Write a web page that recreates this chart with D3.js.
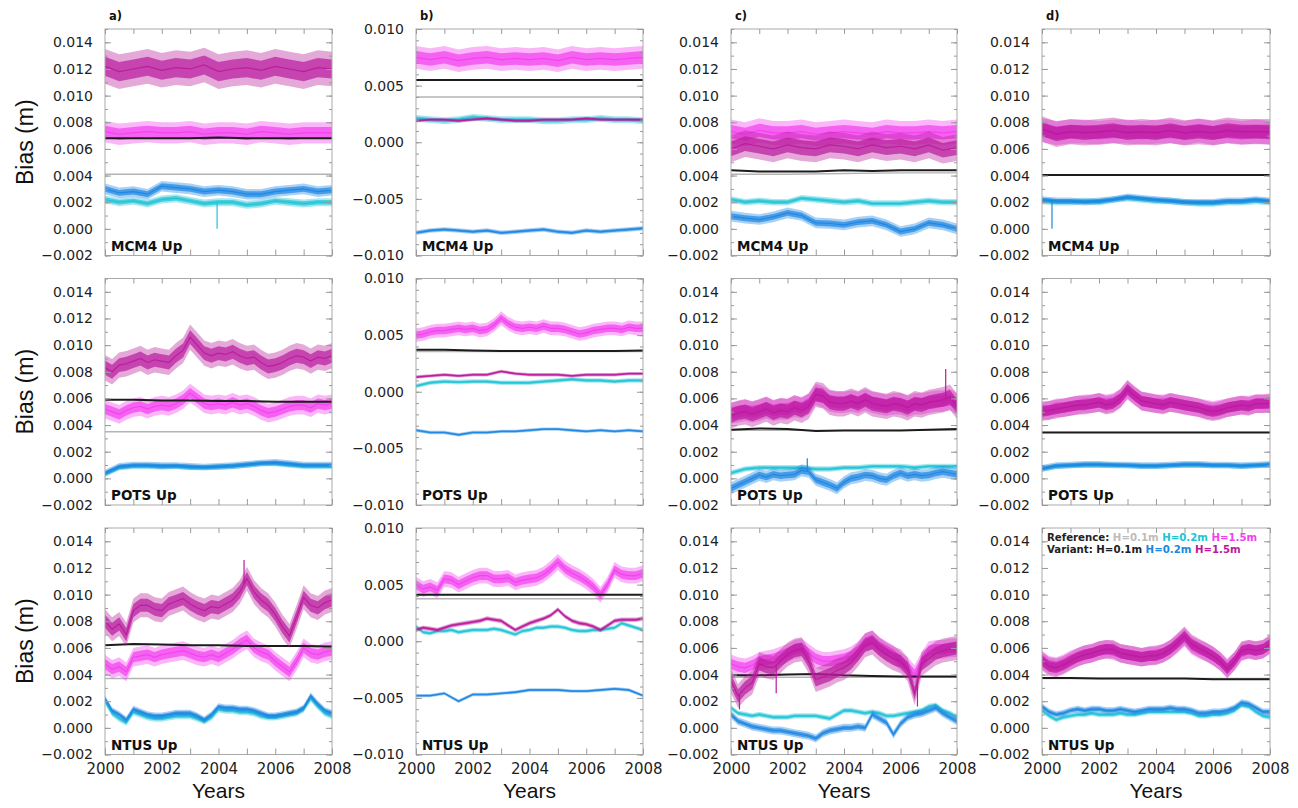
<!DOCTYPE html>
<html>
<head>
<meta charset="utf-8">
<script src="https://cdn.jsdelivr.net/npm/d3@7"></script>
<style>
  body { margin: 0; background: #fff; }
  svg { display: block; }
</style>
</head>
<body>
<svg id="fig" width="1298" height="808"></svg>
<script>
// All bias values below are in millimetres; each array is spread evenly over 2000.0–2008.0.
const MM = 0.001;

const stations = ["MCM4 Up", "POTS Up", "NTUS Up"];
const panelLetters = ["a)", "b)", "c)", "d)"];
const yTicksWide = [-0.002, 0, 0.002, 0.004, 0.006, 0.008, 0.010, 0.012, 0.014];
const yTicksWideMinor = d3.range(-0.002, 0.0151, 0.001);
const yTicksNarrow = [-0.010, -0.005, 0, 0.005, 0.010];
const yTicksNarrowMinor = d3.range(-0.010, 0.0101, 0.001);
const xTickLabels = [2000, 2002, 2004, 2006, 2008];
const xTicksAll = [2000, 2001, 2002, 2003, 2004, 2005, 2006, 2007, 2008];
const legendRows = [
  ["Reference:", "H=0.1m", "H=0.2m", "H=1.5m"],
  ["Variant:", "H=0.1m", "H=0.2m", "H=1.5m"]
];

// ---------- MCM4 ----------
const mcm4_a_ref01 = [4.1, 4.1, 4.1, 4.1, 4.1];
const mcm4_a_ref02 = [2.2, 2.0, 2.1, 1.9, 2.2, 2.3, 2.1, 1.9, 2.0, 2.0, 1.8, 1.9, 2.1, 2.0, 1.9, 2.0, 2.0];
const mcm4_a_ref15 = [7.3, 7.1, 7.2, 7.3, 7.2, 7.2, 7.3, 7.1, 7.2, 7.2, 7.1, 7.3, 7.2, 7.1, 7.2, 7.2, 7.2];
const mcm4_a_var01 = [6.8, 6.8, 6.8, 6.8, 6.85, 6.8, 6.8, 6.8, 6.8];
const mcm4_a_var02 = [3.0, 2.7, 2.8, 2.6, 3.2, 3.1, 3.0, 2.8, 2.9, 2.8, 2.6, 2.6, 2.8, 2.9, 3.0, 2.8, 2.9];
const mcm4_a_var15 = [12.2, 11.8, 12.0, 12.2, 11.9, 12.1, 12.0, 12.3, 11.8, 12.0, 12.1, 11.9, 12.2, 12.0, 11.8, 12.1, 12.0];
const mcm4_a_spread = [0, 0.3, 0.8, 0, 0.4, 1.3];
// single-day outliers: [series index, year, value]
const mcm4_a_outliers = [[1, 2003.95, 0.0]];

const mcm4_b_ref01 = [4.0, 4.0, 4.0, 4.0, 4.0];
const mcm4_b_ref02 = [2.1, 2.0, 1.9, 2.0, 2.2, 2.1, 2.0, 2.0, 2.0, 1.9, 1.9, 2.0, 2.0, 2.1, 2.0, 2.0, 1.9];
const mcm4_b_ref15 = [7.5, 7.3, 7.5, 7.2, 7.4, 7.5, 7.3, 7.4, 7.3, 7.4, 7.2, 7.5, 7.3, 7.4, 7.3, 7.4, 7.5];
const mcm4_b_var01 = [5.5, 5.5, 5.5, 5.5, 5.5];
const mcm4_b_var02 = [-8.0, -7.8, -7.7, -7.8, -7.9, -7.8, -8.0, -7.9, -7.8, -7.7, -7.9, -8.0, -7.8, -7.9, -7.8, -7.7, -7.6];
const mcm4_b_var15 = [1.9, 2.0, 2.0, 1.9, 2.0, 2.1, 2.0, 1.9, 1.9, 2.0, 2.0, 2.0, 2.1, 2.0, 2.0, 2.0, 2.0];
const mcm4_b_spread = [0, 0.3, 1.0, 0, 0.2, 0.15];
const mcm4_b_outliers = [];

const mcm4_c_ref01 = [4.1, 4.1, 4.15, 4.2, 4.2];
const mcm4_c_ref02 = [2.2, 2.0, 2.1, 2.0, 2.0, 2.3, 2.2, 2.1, 2.0, 2.1, 1.9, 1.9, 1.9, 2.0, 2.1, 2.0, 2.0];
const mcm4_c_ref15 = [7.3, 7.1, 7.4, 7.2, 7.2, 7.3, 7.1, 7.2, 7.3, 7.2, 7.1, 7.3, 7.2, 7.2, 7.3, 7.2, 7.3];
const mcm4_c_var01 = [4.4, 4.3, 4.3, 4.3, 4.4, 4.35, 4.4, 4.4, 4.4];
const mcm4_c_var02 = [0.95, 0.8, 0.7, 0.9, 1.2, 1.0, 0.45, 0.4, 0.3, 0.5, 0.6, 0.3, -0.2, 0.0, 0.45, 0.3, 0.0];
const mcm4_c_var15 = [6.0, 6.4, 6.2, 6.0, 6.3, 6.1, 6.0, 6.3, 6.2, 6.0, 6.3, 6.1, 6.2, 6.0, 6.3, 5.9, 6.1];
const mcm4_c_spread = [0, 0.25, 0.9, 0, 0.4, 1.0];
const mcm4_c_outliers = [];

const mcm4_d_ref01 = [4.05, 4.05, 4.05, 4.05, 4.05];
const mcm4_d_ref02 = [2.1, 2.0, 2.0, 2.1, 2.0, 2.2, 2.3, 2.2, 2.1, 2.1, 2.0, 1.9, 1.9, 2.0, 2.0, 2.1, 2.0];
const mcm4_d_ref15 = [7.4, 7.2, 7.3, 7.3, 7.2, 7.3, 7.3, 7.2, 7.3, 7.3, 7.2, 7.4, 7.2, 7.3, 7.2, 7.3, 7.2];
const mcm4_d_var01 = [4.05, 4.05, 4.05, 4.05, 4.05];
const mcm4_d_var02 = [2.2, 2.1, 2.1, 2.0, 2.1, 2.2, 2.4, 2.3, 2.2, 2.1, 2.0, 2.0, 2.0, 2.1, 2.1, 2.2, 2.1];
const mcm4_d_var15 = [7.5, 7.1, 7.3, 7.2, 7.3, 7.4, 7.2, 7.3, 7.2, 7.4, 7.2, 7.3, 7.2, 7.4, 7.3, 7.3, 7.3];
const mcm4_d_spread = [0, 0.25, 0.9, 0, 0.25, 0.95];
const mcm4_d_outliers = [[4, 2000.35, 0.0]];

// ---------- POTS ----------
const pots_a_ref01 = [3.5, 3.5, 3.5, 3.5, 3.5];
const pots_a_ref02 = [0.3, 0.8, 0.9, 0.9, 0.85, 0.9, 0.8, 0.8, 0.85, 0.9, 1.0, 1.1, 1.1, 1.0, 0.9, 0.9, 0.9];
const pots_a_ref15 = [5.2, 5.0, 4.8, 5.1, 5.3, 5.4, 5.2, 5.4, 5.5, 5.4, 5.6, 5.9, 6.4, 6.0, 5.6, 5.5, 5.6,
                      5.5, 5.7, 5.5, 5.6, 5.4, 5.1, 4.9, 5.0, 5.2, 5.4, 5.5, 5.5, 5.3, 5.6, 5.5, 5.6];
const pots_a_var01 = [5.9, 5.9, 5.85, 5.85, 5.8, 5.8, 5.75, 5.75, 5.75];
const pots_a_var02 = [0.4, 0.9, 1.0, 1.0, 0.95, 0.95, 0.9, 0.85, 0.9, 0.95, 1.05, 1.15, 1.2, 1.1, 1.0, 1.0, 1.0];
const pots_a_var15 = [8.3, 8.0, 8.5, 8.6, 8.8, 9.0, 8.7, 8.9, 8.8, 8.7, 9.2, 9.6, 10.6, 10.0, 9.4, 9.2, 9.4,
                      9.3, 9.5, 9.2, 9.0, 9.1, 8.7, 8.4, 8.5, 8.7, 9.0, 9.2, 9.1, 8.8, 9.1, 9.0, 9.2];
const pots_a_spread = [0, 0.2, 0.7, 0, 0.25, 0.95];
const pots_a_outliers = [];

const pots_b_ref01 = [3.55, 3.55, 3.55, 3.55, 3.55];
const pots_b_ref02 = [0.5, 0.8, 0.9, 0.85, 0.9, 0.9, 0.8, 0.8, 0.8, 0.9, 1.0, 1.1, 1.0, 1.0, 0.9, 1.0, 1.0];
const pots_b_ref15 = [5.0, 5.1, 5.3, 5.4, 5.4, 5.5, 5.6, 5.5, 5.6, 5.4, 5.5, 5.9, 6.5, 6.0, 5.7, 5.6, 5.7,
                      5.6, 5.8, 5.6, 5.6, 5.5, 5.3, 5.1, 5.2, 5.4, 5.5, 5.6, 5.6, 5.5, 5.7, 5.6, 5.6];
const pots_b_var01 = [3.7, 3.7, 3.65, 3.6, 3.6, 3.6, 3.6, 3.6, 3.65];
const pots_b_var02 = [-3.4, -3.6, -3.6, -3.8, -3.6, -3.6, -3.5, -3.5, -3.4, -3.3, -3.3, -3.4, -3.5, -3.4, -3.5, -3.4, -3.5];
const pots_b_var15 = [1.3, 1.4, 1.5, 1.4, 1.5, 1.5, 1.8, 1.6, 1.5, 1.5, 1.5, 1.4, 1.5, 1.5, 1.5, 1.6, 1.6];
const pots_b_spread = [0, 0.2, 0.6, 0, 0.15, 0.15];
const pots_b_outliers = [];

const pots_c_ref01 = [3.6, 3.6, 3.6, 3.6, 3.6];
const pots_c_ref02 = [0.4, 0.7, 0.8, 0.8, 0.8, 0.8, 0.7, 0.7, 0.8, 0.8, 0.9, 0.9, 0.9, 0.8, 0.9, 0.9, 0.9];
const pots_c_ref15 = [4.9, 5.0, 5.1, 5.0, 5.1, 5.3, 5.1, 5.2, 5.2, 5.4, 5.3, 5.6, 6.3, 6.1, 5.8, 5.7, 5.7,
                      5.8, 5.7, 5.9, 5.7, 5.6, 5.5, 5.6, 5.6, 5.4, 5.6, 5.6, 5.7, 5.8, 5.8, 5.9, 5.6];
const pots_c_var01 = [3.65, 3.75, 3.7, 3.55, 3.6, 3.6, 3.6, 3.65, 3.7];
const pots_c_var02 = [-0.75, -0.5, -0.25, 0.0, 0.25, 0.1, 0.3, 0.2, 0.25, 0.3, 0.6, 0.5, -0.1, -0.3, -0.5, -0.75, -0.3,
                      0.0, 0.1, 0.25, 0.2, 0.0, -0.1, 0.2, 0.4, 0.2, 0.3, 0.2, 0.25, 0.4, 0.5, 0.4, 0.3];
const pots_c_var15 = [4.7, 4.9, 5.0, 4.8, 5.0, 5.2, 4.9, 5.1, 5.0, 5.3, 5.1, 5.4, 6.3, 6.2, 5.7, 5.6, 5.6,
                      5.8, 5.6, 5.9, 5.6, 5.5, 5.4, 5.6, 5.5, 5.3, 5.6, 5.5, 5.7, 5.8, 5.9, 6.1, 5.4];
const pots_c_spread = [0, 0.2, 0.8, 0, 0.45, 0.95];
const pots_c_outliers = [[5, 2007.6, 8.2], [4, 2002.7, 1.5]];

const pots_d_ref01 = [3.45, 3.45, 3.45, 3.45, 3.45];
const pots_d_ref02 = [0.7, 0.9, 0.95, 1.0, 1.0, 1.0, 0.95, 0.9, 0.9, 0.95, 1.0, 1.0, 0.95, 0.95, 0.9, 0.95, 1.0];
const pots_d_ref15 = [5.1, 5.1, 5.3, 5.3, 5.4, 5.5, 5.6, 5.6, 5.7, 5.6, 5.7, 6.0, 6.6, 6.2, 5.8, 5.7, 5.6,
                      5.6, 5.7, 5.6, 5.5, 5.4, 5.3, 5.2, 5.1, 5.2, 5.3, 5.4, 5.5, 5.5, 5.6, 5.6, 5.7];
const pots_d_var01 = [3.45, 3.45, 3.45, 3.45, 3.45];
const pots_d_var02 = [0.75, 0.95, 1.0, 1.05, 1.05, 1.0, 1.0, 0.95, 0.95, 1.0, 1.05, 1.05, 1.0, 1.0, 0.95, 1.0, 1.05];
const pots_d_var15 = [5.0, 5.1, 5.2, 5.3, 5.4, 5.5, 5.5, 5.6, 5.7, 5.5, 5.6, 6.0, 6.7, 6.2, 5.8, 5.7, 5.6,
                      5.5, 5.7, 5.6, 5.5, 5.4, 5.3, 5.1, 5.0, 5.1, 5.3, 5.4, 5.5, 5.4, 5.6, 5.6, 5.6];
const pots_d_spread = [0, 0.2, 0.7, 0, 0.25, 0.7];
const pots_d_outliers = [];

// ---------- NTUS ----------
const ntus_a_ref01 = [3.7, 3.7, 3.7, 3.7, 3.7];
const ntus_a_ref02 = [2.0, 1.1, 0.7, 0.4, 1.2, 1.0, 0.8, 0.7, 0.7, 0.8, 0.9, 0.9, 0.9, 0.7, 0.5, 0.8, 1.4,
                      1.3, 1.3, 1.2, 1.2, 1.1, 0.9, 0.8, 0.8, 0.9, 1.0, 1.1, 1.4, 2.2, 1.6, 1.1, 0.9];
const ntus_a_ref15 = [4.8, 4.4, 4.6, 4.2, 5.3, 5.4, 5.5, 5.3, 5.5, 5.6, 5.7, 5.8, 5.6, 5.4, 5.3, 5.5, 5.3,
                      5.6, 5.9, 6.3, 6.6, 6.0, 5.7, 5.5, 5.0, 4.6, 4.2, 5.0, 6.0, 5.6, 5.5, 5.7, 5.8];
const ntus_a_var01 = [6.2, 6.3, 6.25, 6.2, 6.2, 6.15, 6.15, 6.15, 6.1];
const ntus_a_var02 = [2.2, 1.3, 1.0, 0.6, 1.4, 1.2, 1.0, 0.9, 0.9, 1.0, 1.1, 1.1, 1.1, 0.9, 0.6, 1.0, 1.6,
                      1.5, 1.5, 1.4, 1.4, 1.3, 1.1, 0.9, 0.9, 1.0, 1.1, 1.2, 1.5, 2.4, 1.8, 1.3, 1.1];
const ntus_a_var15 = [8.0, 7.4, 7.8, 7.0, 8.8, 9.2, 9.2, 8.9, 8.8, 9.3, 9.5, 9.7, 9.3, 9.0, 8.8, 9.1, 9.0,
                      9.3, 9.6, 10.2, 11.2, 10.2, 9.6, 9.2, 8.5, 7.6, 6.9, 8.3, 9.8, 9.2, 9.0, 9.4, 9.6];
const ntus_a_spread = [0, 0.25, 0.7, 0, 0.25, 0.9];
const ntus_a_outliers = [[5, 2004.9, 12.6]];

const ntus_b_ref01 = [3.75, 3.75, 3.75, 3.75, 3.75];
const ntus_b_ref02 = [1.3, 0.8, 0.7, 0.9, 0.9, 1.0, 0.8, 0.9, 1.0, 1.0, 1.0, 1.1, 1.0, 0.8, 0.6, 0.9, 1.0,
                      1.2, 1.2, 1.3, 1.3, 1.2, 1.0, 0.9, 0.9, 1.0, 1.0, 1.1, 1.2, 1.6, 1.4, 1.2, 1.0];
const ntus_b_ref15 = [5.0, 4.6, 4.8, 4.5, 5.5, 5.4, 5.0, 5.3, 5.6, 5.8, 5.8, 5.5, 5.5, 5.6, 5.2, 5.4, 5.5,
                      5.6, 5.9, 6.4, 7.0, 6.4, 6.0, 5.7, 5.3, 4.8, 4.1, 5.0, 6.3, 5.9, 5.8, 5.8, 6.0];
const ntus_b_var01 = [4.1, 4.1, 4.1, 4.1, 4.1];
const ntus_b_var02 = [-4.8, -4.8, -4.6, -5.3, -4.7, -4.7, -4.6, -4.5, -4.3, -4.3, -4.3, -4.4, -4.4, -4.3, -4.2, -4.3, -4.8];
const ntus_b_var15 = [1.0, 1.2, 1.1, 1.0, 1.2, 1.4, 1.5, 1.6, 1.7, 1.8, 2.0, 1.9, 1.8, 1.4, 1.0, 1.3, 1.6,
                      1.8, 2.0, 2.3, 2.8, 2.2, 1.8, 1.6, 1.5, 1.3, 1.0, 1.4, 1.8, 1.9, 1.9, 1.9, 2.0];
const ntus_b_spread = [0, 0.2, 0.7, 0, 0.15, 0.2];
const ntus_b_outliers = [];

const ntus_c_ref01 = [3.8, 3.8, 3.8, 3.8, 3.8];
const ntus_c_ref02 = [1.5, 1.1, 1.0, 0.9, 1.0, 0.9, 0.8, 0.8, 0.8, 0.9, 0.9, 0.9, 0.9, 0.8, 0.7, 1.0, 1.3,
                      1.3, 1.2, 1.1, 1.2, 1.1, 0.9, 0.9, 1.0, 1.1, 1.2, 1.3, 1.6, 1.7, 1.3, 1.1, 0.8];
const ntus_c_ref15 = [4.8, 4.6, 4.5, 4.7, 5.0, 5.1, 5.2, 5.4, 5.6, 5.9, 6.0, 5.6, 5.2, 5.0, 5.0, 5.1, 5.2,
                      5.4, 5.8, 6.4, 6.6, 6.1, 5.8, 5.5, 5.0, 4.6, 4.0, 5.0, 5.8, 5.9, 5.9, 6.0, 6.0];
const ntus_c_var01 = [3.95, 3.95, 4.0, 4.05, 3.95, 3.9, 3.85, 3.85, 3.85];
const ntus_c_var02 = [1.0, 0.5, 0.3, 0.1, 0.0, -0.1, -0.2, -0.2, -0.3, -0.4, -0.5, -0.6, -0.8, -0.4, -0.2, -0.1, 0.0,
                      0.0, 0.1, 0.0, 1.0, 0.7, 0.4, -0.5, 0.3, 0.8, 1.0, 1.1, 1.3, 1.5, 1.1, 0.8, 0.5];
const ntus_c_var15 = [3.5, 2.4, 3.0, 3.4, 4.8, 4.6, 4.5, 5.0, 5.5, 5.8, 5.9, 5.0, 3.6, 3.8, 4.0, 4.3, 4.5,
                      4.9, 5.5, 6.2, 6.4, 5.9, 5.5, 5.2, 5.0, 4.4, 2.6, 4.8, 5.2, 5.6, 5.8, 5.9, 6.0];
const ntus_c_spread = [0, 0.2, 0.7, 0, 0.3, 0.9];
const ntus_c_outliers = [[5, 2000.3, 1.4], [5, 2006.6, 1.6], [5, 2001.6, 2.6]];

const ntus_d_ref01 = [3.7, 3.7, 3.7, 3.7, 3.7];
const ntus_d_ref02 = [1.3, 0.9, 0.6, 0.8, 0.9, 1.0, 1.0, 1.1, 1.0, 1.0, 1.0, 1.1, 1.0, 1.0, 1.1, 1.2, 1.2,
                      1.2, 1.2, 1.2, 1.2, 1.1, 0.9, 0.9, 1.0, 1.0, 1.1, 1.3, 1.7, 1.6, 1.2, 0.9, 0.8];
const ntus_d_ref15 = [5.1, 4.7, 4.6, 4.8, 5.1, 5.3, 5.5, 5.6, 5.8, 5.9, 5.8, 5.6, 5.5, 5.4, 5.3, 5.4, 5.5,
                      5.6, 5.9, 6.3, 6.8, 6.2, 5.9, 5.7, 5.4, 5.0, 4.5, 5.0, 5.7, 5.9, 5.8, 5.9, 6.2];
const ntus_d_var01 = [3.75, 3.75, 3.7, 3.7, 3.7, 3.7, 3.65, 3.65, 3.65];
const ntus_d_var02 = [1.6, 1.2, 1.0, 1.1, 1.3, 1.4, 1.3, 1.4, 1.4, 1.3, 1.3, 1.4, 1.3, 1.2, 1.3, 1.4, 1.4,
                      1.4, 1.5, 1.4, 1.4, 1.3, 1.1, 1.1, 1.2, 1.2, 1.3, 1.5, 1.9, 1.8, 1.5, 1.2, 1.2];
const ntus_d_var15 = [5.0, 4.6, 4.5, 4.7, 5.0, 5.3, 5.5, 5.6, 5.8, 5.9, 5.9, 5.6, 5.5, 5.4, 5.3, 5.4, 5.4,
                      5.6, 5.9, 6.4, 6.9, 6.3, 6.0, 5.7, 5.4, 5.0, 4.4, 5.0, 5.8, 5.9, 5.8, 5.9, 6.3];
const ntus_d_spread = [0, 0.2, 0.7, 0, 0.25, 0.7];
const ntus_d_outliers = [];

// ---------- styling ----------
// draw order: reference curves first, variant curves on top
const seriesColors = ["#b4b4b4", "#20c3d6", "#f23ff0", "#1c1c1c", "#1c86e2", "#b91a9c"];
const legendColors = [
  ["#222", "#bdbdbd", "#20c3d6", "#f23ff0"],
  ["#222", "#1c1c1c", "#1c86e2", "#b91a9c"]
];

const colX = [[105, 332], [416, 643], [731, 957], [1042, 1270]];
const rowY = [[29, 255.5], [278.5, 505], [528, 754.5]];

const panelTable = [
  [mcm4_a_ref01, mcm4_a_ref02, mcm4_a_ref15, mcm4_a_var01, mcm4_a_var02, mcm4_a_var15, mcm4_a_spread, mcm4_a_outliers],
  [mcm4_b_ref01, mcm4_b_ref02, mcm4_b_ref15, mcm4_b_var01, mcm4_b_var02, mcm4_b_var15, mcm4_b_spread, mcm4_b_outliers],
  [mcm4_c_ref01, mcm4_c_ref02, mcm4_c_ref15, mcm4_c_var01, mcm4_c_var02, mcm4_c_var15, mcm4_c_spread, mcm4_c_outliers],
  [mcm4_d_ref01, mcm4_d_ref02, mcm4_d_ref15, mcm4_d_var01, mcm4_d_var02, mcm4_d_var15, mcm4_d_spread, mcm4_d_outliers],
  [pots_a_ref01, pots_a_ref02, pots_a_ref15, pots_a_var01, pots_a_var02, pots_a_var15, pots_a_spread, pots_a_outliers],
  [pots_b_ref01, pots_b_ref02, pots_b_ref15, pots_b_var01, pots_b_var02, pots_b_var15, pots_b_spread, pots_b_outliers],
  [pots_c_ref01, pots_c_ref02, pots_c_ref15, pots_c_var01, pots_c_var02, pots_c_var15, pots_c_spread, pots_c_outliers],
  [pots_d_ref01, pots_d_ref02, pots_d_ref15, pots_d_var01, pots_d_var02, pots_d_var15, pots_d_spread, pots_d_outliers],
  [ntus_a_ref01, ntus_a_ref02, ntus_a_ref15, ntus_a_var01, ntus_a_var02, ntus_a_var15, ntus_a_spread, ntus_a_outliers],
  [ntus_b_ref01, ntus_b_ref02, ntus_b_ref15, ntus_b_var01, ntus_b_var02, ntus_b_var15, ntus_b_spread, ntus_b_outliers],
  [ntus_c_ref01, ntus_c_ref02, ntus_c_ref15, ntus_c_var01, ntus_c_var02, ntus_c_var15, ntus_c_spread, ntus_c_outliers],
  [ntus_d_ref01, ntus_d_ref02, ntus_d_ref15, ntus_d_var01, ntus_d_var02, ntus_d_var15, ntus_d_spread, ntus_d_outliers]
].map((arr, i) => ({
  row: Math.floor(i / 4),
  col: i % 4,
  series: arr.slice(0, 6),
  spread: arr[6],
  outliers: arr[7]
}));

const svg = d3.select("#fig");
const tickFont = "DejaVu Sans, sans-serif";
const boldFont = "DejaVu Sans, sans-serif";
const labelFont = "Liberation Sans, Arial, sans-serif";
const fmt = d3.format(".3f");

function toPoints(values) {
  const n = values.length;
  return values.map((v, i) => ({ t: 2000 + 8 * i / (n - 1), v: v * MM }));
}

// level of a series at time t, read linearly between its stored points
function levelAt(values, t) {
  const n = values.length;
  const pos = (t - 2000) / 8 * (n - 1);
  const i = Math.max(0, Math.min(n - 2, Math.floor(pos)));
  const f = pos - i;
  return (values[i] * (1 - f) + values[i + 1] * f) * MM;
}

panelTable.forEach((p, idx) => {
  const [x0, x1] = colX[p.col];
  const [y0, y1] = rowY[p.row];
  const narrow = p.col === 1;
  const x = d3.scaleLinear().domain([2000, 2008]).range([x0, x1]);
  const y = d3.scaleLinear().domain(narrow ? [-0.010, 0.010] : [-0.002, 0.015]).range([y1, y0]);

  const g = svg.append("g");
  const clipId = "clip" + idx;
  g.append("clipPath").attr("id", clipId)
    .append("rect").attr("x", x0).attr("y", y0).attr("width", x1 - x0).attr("height", y1 - y0);

  const plot = g.append("g").attr("clip-path", `url(#${clipId})`);

  const line = d3.line().x(d => x(d.t)).y(d => y(d.v)).curve(d3.curveLinear);
  const band = f => d3.area().x(d => x(d.t))
    .y0(d => y(d.v - f)).y1(d => y(d.v + f)).curve(d3.curveLinear);

  p.series.forEach((vals, k) => {
    const pts = toPoints(vals);
    const w = p.spread[k] * MM;
    const color = seriesColors[k];
    if (w > 0) {
      // faint outer envelope of the daily scatter, denser core, then the running level
      plot.append("path").datum(pts).attr("d", band(w))
        .attr("fill", color).attr("fill-opacity", 0.38);
      plot.append("path").datum(pts).attr("d", band(w * 0.55))
        .attr("fill", color).attr("fill-opacity", 0.7);
      plot.append("path").datum(pts).attr("d", line)
        .attr("fill", "none").attr("stroke", color)
        .attr("stroke-width", 1.2).attr("stroke-opacity", 0.9);
    } else {
      plot.append("path").datum(pts).attr("d", line)
        .attr("fill", "none").attr("stroke", color)
        .attr("stroke-width", k === 3 ? 2 : 1.4);
    }
  });

  // isolated single-day excursions
  plot.selectAll("line.outlier")
    .data(p.outliers)
    .join("line")
    .attr("class", "outlier")
    .attr("x1", d => x(d[1])).attr("x2", d => x(d[1]))
    .attr("y1", d => y(levelAt(p.series[d[0]], d[1])))
    .attr("y2", d => y(d[2] * MM))
    .attr("stroke", d => seriesColors[d[0]])
    .attr("stroke-width", 1.2);

  // frame
  g.append("rect")
    .attr("x", x0).attr("y", y0).attr("width", x1 - x0).attr("height", y1 - y0)
    .attr("fill", "none").attr("stroke", "#a9a9a9").attr("stroke-width", 1);

  const major = narrow ? yTicksNarrow : yTicksWide;
  const minor = narrow ? yTicksNarrowMinor : yTicksWideMinor;

  // left axis with labels
  const left = g.append("g").attr("transform", `translate(${x0},0)`)
    .call(d3.axisLeft(y).tickValues(major).tickSize(-6).tickPadding(12).tickFormat(fmt));
  left.select(".domain").remove();
  left.selectAll("line").attr("stroke", "#9a9a9a");
  left.selectAll("text").attr("font-family", tickFont).attr("font-size", 14).attr("fill", "#1e1e1e");

  const leftMinor = g.append("g").attr("transform", `translate(${x0},0)`)
    .call(d3.axisLeft(y).tickValues(minor).tickSize(-3).tickFormat(""));
  leftMinor.select(".domain").remove();
  leftMinor.selectAll("line").attr("stroke", "#9a9a9a");

  const right = g.append("g").attr("transform", `translate(${x1},0)`)
    .call(d3.axisRight(y).tickValues(major).tickSize(-6).tickFormat(""));
  right.select(".domain").remove();
  right.selectAll("line").attr("stroke", "#9a9a9a");
  const rightMinor = g.append("g").attr("transform", `translate(${x1},0)`)
    .call(d3.axisRight(y).tickValues(minor).tickSize(-3).tickFormat(""));
  rightMinor.select(".domain").remove();
  rightMinor.selectAll("line").attr("stroke", "#9a9a9a");

  // top and bottom year ticks
  const top = g.append("g").attr("transform", `translate(0,${y0})`)
    .call(d3.axisTop(x).tickValues(xTicksAll).tickSize(-5).tickFormat(""));
  top.select(".domain").remove();
  top.selectAll("line").attr("stroke", "#9a9a9a");

  const bottom = g.append("g").attr("transform", `translate(0,${y1})`)
    .call(d3.axisBottom(x).tickValues(xTicksAll).tickSize(-6).tickFormat(""));
  bottom.select(".domain").remove();
  bottom.selectAll("line").attr("stroke", "#9a9a9a");

  if (p.row === 2) {
    const xl = g.append("g").attr("transform", `translate(0,${y1})`)
      .call(d3.axisBottom(x).tickValues(xTickLabels).tickSize(0).tickPadding(9).tickFormat(d3.format("d")));
    xl.select(".domain").remove();
    xl.selectAll("text").attr("font-family", tickFont).attr("font-size", 15).attr("fill", "#1e1e1e");

    g.append("text")
      .attr("x", (x0 + x1) / 2).attr("y", 798)
      .attr("text-anchor", "middle")
      .attr("font-family", labelFont).attr("font-size", 21).attr("fill", "#111")
      .text("Years");
  }

  if (p.row === 0) {
    g.append("text")
      .attr("x", x0 + 4).attr("y", 20)
      .attr("font-family", boldFont).attr("font-weight", "bold").attr("font-size", 11.5).attr("fill", "#111")
      .text(panelLetters[p.col]);
  }

  if (p.col === 0) {
    g.append("text")
      .attr("transform", `translate(33,${(y0 + y1) / 2}) rotate(-90)`)
      .attr("text-anchor", "middle")
      .attr("font-family", labelFont).attr("font-size", 23).attr("fill", "#111")
      .text("Bias (m)");
  }

  g.append("text")
    .attr("x", x0 + 6).attr("y", y1 - 5)
    .attr("font-family", boldFont).attr("font-weight", "bold").attr("font-size", 13.5).attr("fill", "#111")
    .text(stations[p.row]);

  if (p.row === 2 && p.col === 3) {
    legendRows.forEach((row, r) => {
      const t = g.append("text")
        .attr("x", x0 + 5).attr("y", y0 + 12.5 + r * 12.5)
        .attr("font-family", boldFont).attr("font-weight", "bold").attr("font-size", 10.2);
      row.forEach((s, j) => {
        t.append("tspan").attr("fill", legendColors[r][j]).text((j > 0 ? " " : "") + s);
      });
    });
  }
});
</script>
</body>
</html>
